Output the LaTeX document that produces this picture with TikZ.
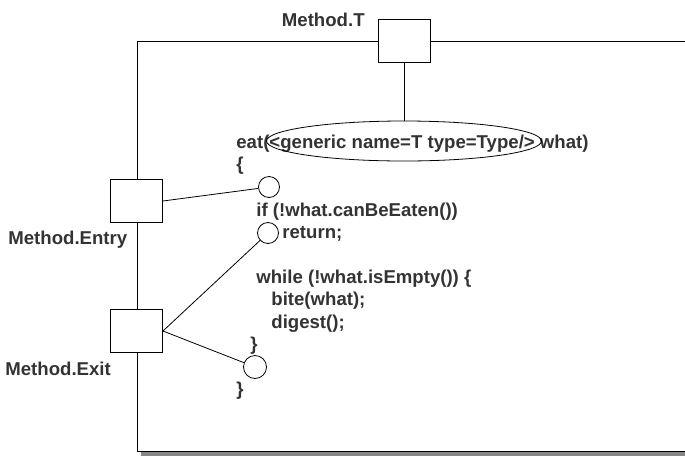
\documentclass[tikz,border=0pt]{standalone}
\usepackage{fontspec}
\setmainfont{Liberation Sans}
\usetikzlibrary{positioning, shapes.geometric}
\definecolor{ink}{HTML}{333333}

\tikzset{
    pin/.style={draw, fill=white, line width=0.9pt, minimum width=52pt, minimum height=43pt, inner sep=0pt},
    port/.style={draw, fill=white, circle, line width=0.8pt, minimum size=21pt, inner sep=0pt},
    lbl/.style={text=ink, font=\bfseries\fontsize{18.6}{22}\selectfont, inner sep=0pt},
    code/.style={lbl, anchor=base west}
}

\begin{document}
\begin{tikzpicture}[x=1pt, y=-1pt, line width=0.8pt]
    \clip (0,0) rectangle (685,456);
    % Method frame with its shadow
    \fill[gray!95] (141,451) rectangle (720,455.5);
    \draw[fill=white] (137.5,41) rectangle (720,451);

    % Pins on the frame
    \node[pin] (mT) at (404,40.5) {};
    \node[pin] (mEntry) at (136.5,201) {};
    \node[pin] (mExit) at (136.5,331) {};
    \node[lbl, anchor=base east] (lT) at (365,26) {Method.T};
    \node[lbl, anchor=base west] (lEntry) at (8,244) {Method.Entry};
    \node[lbl, anchor=base west] (lExit) at (5,375) {Method.Exit};

    % Code lines
    \node[code] (sig) at (236,148) {eat(<generic name=T type=Type/> what)};
    \node[code] (open) at (236,170) {\{};
    \node[code] (cond) at (256,216) {if (!what.canBeEaten())};
    \node[code] (ret) at (282,238) {return;};
    \node[code] (loop) at (256,283) {while (!what.isEmpty()) \{};
    \node[code] (bite) at (271,305) {bite(what);};
    \node[code] (dig) at (271,328) {digest();};
    \node[code] (endloop) at (250,350) {\}};
    \node[code] (close) at (236,395) {\}};

    % Generic parameter and control points
    \node[draw, ellipse, minimum width=275pt, minimum height=40pt] (gen) at (404,141) {};
    \node[port] (c1) at (269,187) {};
    \node[port] (c2) at (268,233) {};
    \node[port, minimum height=23pt] (c3) at (255,367) {};

    % Connectors
    \draw (mT.south) -- (gen.north);
    \draw (mEntry.east) -- (c1);
    \draw (mExit.east) -- (c2);
    \draw (mExit.east) -- (c3);
\end{tikzpicture}
\end{document}
